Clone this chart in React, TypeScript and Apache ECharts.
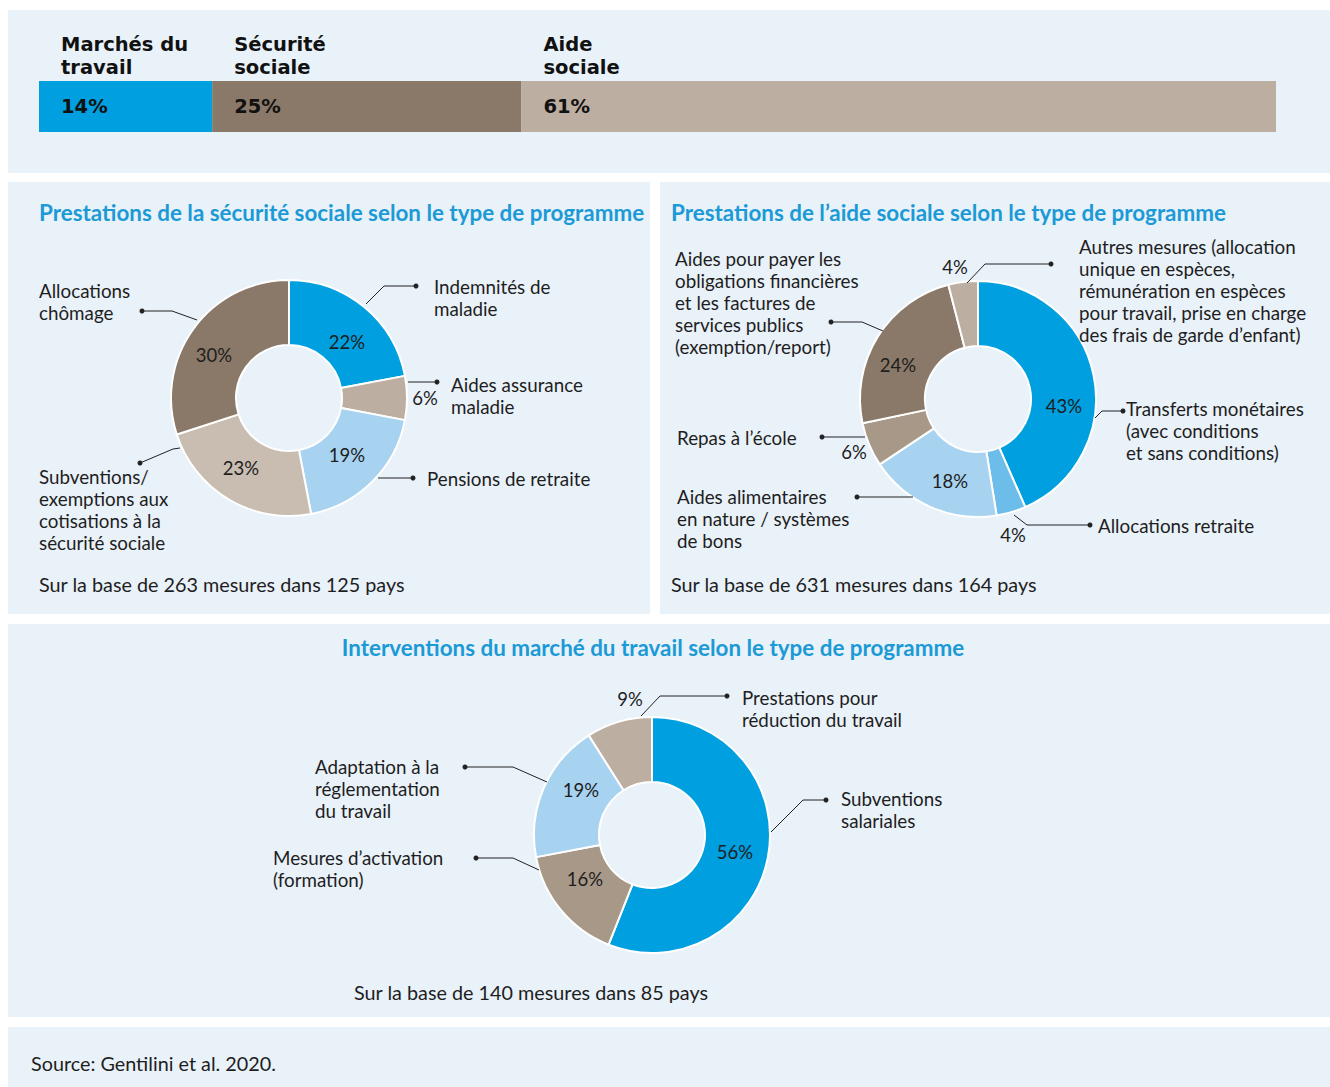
import React, { useEffect, useRef } from "react";
import * as echarts from "echarts";

// ---------- DATA ----------
const barNames = ["Marchés du\ntravail", "Sécurité\nsociale", "Aide\nsociale"];
const barValues = [14, 25, 61];

const ssNames = [
  "Indemnités de\nmaladie",
  "Aides assurance\nmaladie",
  "Pensions de retraite",
  "Subventions/\nexemptions aux\ncotisations à la\nsécurité sociale",
  "Allocations\nchômage",
];
const ssValues = [22, 6, 19, 23, 30];

const saNames = [
  "Transferts monétaires\n(avec conditions\net sans conditions)",
  "Allocations retraite",
  "Aides alimentaires\nen nature / systèmes\nde bons",
  "Repas à l’école",
  "Aides pour payer les\nobligations financières\net les factures de\nservices publics\n(exemption/report)",
  "Autres mesures (allocation\nunique en espèces,\nrémunération en espèces\npour travail, prise en charge\ndes frais de garde d’enfant)",
];
const saValues = [43, 4, 18, 6, 24, 4];

const lmNames = [
  "Subventions\nsalariales",
  "Mesures d’activation\n(formation)",
  "Adaptation à la\nréglementation\ndu travail",
  "Prestations pour\nréduction du travail",
];
const lmValues = [56, 16, 19, 9];

const titles = [
  "Prestations de la sécurité sociale selon le type de programme",
  "Prestations de l’aide sociale selon le type de programme",
  "Interventions du marché du travail selon le type de programme",
];
const captions = [
  "Sur la base de 263 mesures dans 125 pays",
  "Sur la base de 631 mesures dans 164 pays",
  "Sur la base de 140 mesures dans 85 pays",
];
const sourceText = "Source: Gentilini et al. 2020.";

// ---------- STYLE ----------
const BLUE = "#009fdf";
const LIGHTBLUE = "#a7d3f1";
const MIDBLUE = "#6cbde9";
const DARKBROWN = "#8a7968";
const TAN = "#bcaea0";
const GREYBROWN = "#a89888";
const BEIGE = "#c9bdb1";
const PANEL = "#e9f1f9";
const TXT = "#1e1e1e";
const FONT = "Lato, 'Open Sans', sans-serif";
const HEAD = "'DejaVu Sans', Inter, sans-serif";
const NAME_SIZE = 18.8;
const NAME_LH = 22;
const REF_LH = 21;

const barColors = [BLUE, DARKBROWN, TAN];
const ssColors = [BLUE, TAN, LIGHTBLUE, BEIGE, DARKBROWN];
const saColors = [BLUE, MIDBLUE, LIGHTBLUE, GREYBROWN, DARKBROWN, TAN];
const lmColors = [BLUE, GREYBROWN, LIGHTBLUE, TAN];

// label placement (layout only): x = text left, c = centre of first text line in reference
type NameLayout = { x: number; c: number; line: number[][] };

const ssLayout: NameLayout[] = [
  { x: 434, c: 287, line: [[366, 304], [384, 286], [416, 286]] },
  { x: 451, c: 385, line: [[408, 382], [437, 382]] },
  { x: 427, c: 478, line: [[378, 478], [413, 478]] },
  { x: 39, c: 478, line: [[180, 448], [173, 449], [140, 463]] },
  { x: 39, c: 291, line: [[197, 320], [172, 311], [142, 311]] },
];
const saLayout: NameLayout[] = [
  { x: 1126, c: 409, line: [[1095, 418], [1102, 411], [1123, 411]] },
  { x: 1098, c: 525, line: [[1014, 515], [1027, 525], [1090, 525]] },
  { x: 677, c: 497, line: [[913, 497], [857, 497]] },
  { x: 677, c: 437, line: [[865, 437], [822, 437]] },
  { x: 675, c: 260, line: [[883, 331], [862, 322], [831, 322]] },
  { x: 1079, c: 248, line: [[967, 283], [985, 264], [1051, 264]] },
];
const lmLayout: NameLayout[] = [
  { x: 841, c: 799, line: [[771, 832], [803, 800], [826, 800]] },
  { x: 273, c: 858, line: [[539, 870], [513, 858], [476, 858]] },
  { x: 315, c: 767, line: [[547, 782], [513, 767], [465, 767]] },
  { x: 742, c: 698, line: [[641, 716], [660, 696], [727, 696]] },
];

const ssPct: number[][] = [[347, 342], [425, 398], [347, 455], [241, 468], [214, 355]];
const saPct: number[][] = [[1064, 406], [1013, 535], [950, 481], [854, 452], [898, 365], [955, 267]];
const lmPct: number[][] = [[735, 852], [585, 879], [581, 790], [630, 699]];

function piePair(
  center: number[],
  names: string[],
  values: number[],
  colors: string[],
  layout: NameLayout[],
  pct: number[][]
) {
  const data = names.map((n, i) => ({ name: n, value: values[i], itemStyle: { color: colors[i] } }));
  return [
    {
      type: "pie",
      center,
      radius: [53, 118],
      startAngle: 90,
      clockwise: true,
      avoidLabelOverlap: false,
      silent: true,
      itemStyle: { borderColor: "#ffffff", borderWidth: 2 },
      label: {
        show: true,
        position: "inside",
        formatter: "{c}%",
        fontSize: 18.5,
        fontFamily: FONT,
        color: TXT,
      },
      labelLine: { show: false },
      labelLayout: (p: any) => {
        const o = pct[p.dataIndex];
        return o ? { x: o[0], y: o[1], align: "center", verticalAlign: "middle" } : {};
      },
      data,
      z: 3,
    },
    {
      type: "pie",
      center,
      radius: [53, 118],
      startAngle: 90,
      clockwise: true,
      avoidLabelOverlap: false,
      silent: true,
      itemStyle: { color: "rgba(0,0,0,0)", borderWidth: 0 },
      label: {
        show: true,
        position: "outside",
        formatter: "{b}",
        fontSize: NAME_SIZE,
        lineHeight: NAME_LH,
        fontFamily: FONT,
        color: TXT,
        align: "left",
        overflow: "none",
        bleedMargin: 0,
      },
      labelLine: { show: true, length: 10, length2: 10, lineStyle: { color: "#222", width: 1 } },
      labelLayout: (p: any) => {
        const L = layout[p.dataIndex];
        const n = names[p.dataIndex].split("\n").length;
        const top = L.c + (REF_LH / 2) * (n - 1) - (NAME_LH / 2) * n;
        return {
          x: L.x,
          y: top,
          align: "left",
          verticalAlign: "top",
          labelLinePoints: L.line,
        };
      },
      data: names.map((n, i) => ({ name: n, value: values[i] })),
      z: 4,
    },
  ];
}

export default function App() {
  const ref = useRef<HTMLDivElement>(null);
  useEffect(() => {
    if (!ref.current) return;
    const chart = echarts.init(ref.current, undefined, { renderer: "svg" });

    const panels = [
      [8, 10, 1322, 163],
      [8, 182, 642, 432],
      [660, 182, 670, 432],
      [8, 624, 1322, 393],
      [8, 1027, 1322, 60],
    ];
    const dots = [...ssLayout, ...saLayout, ...lmLayout].map((L) => {
      const p = L.line[L.line.length - 1];
      return { type: "circle", shape: { cx: p[0], cy: p[1], r: 2.5 }, style: { fill: "#222" }, z: 10, silent: true };
    });
    const textEl = (t: string, x: number, y: number, opts: any = {}) => ({
      type: "text",
      x,
      y,
      z: 10,
      silent: true,
      style: {
        text: t,
        fontFamily: FONT,
        fontSize: 19.8,
        fill: TXT,
        verticalAlign: "middle",
        ...opts,
      },
    });
    const titleStyle = { fontFamily: FONT, fontWeight: "bold", fontSize: 22.4, fill: "#1b9ad6" };

    const option: any = {
      animation: false,
      backgroundColor: "#ffffff",
      graphic: [
        ...panels.map((r) => ({
          type: "rect",
          shape: { x: r[0], y: r[1], width: r[2], height: r[3] },
          style: { fill: PANEL },
          z: -10,
          silent: true,
        })),
        textEl(titles[0], 39, 212, titleStyle),
        textEl(titles[1], 671, 212, titleStyle),
        textEl(titles[2], 653, 647, { ...titleStyle, align: "center" }),
        textEl(captions[0], 39, 584),
        textEl(captions[1], 671, 584),
        textEl(captions[2], 354, 992),
        textEl(sourceText, 31, 1063),
        ...dots,
      ],
      grid: { left: 39, top: 81, width: 1237, height: 51, containLabel: false },
      xAxis: { type: "value", min: 0, max: 100, show: false },
      yAxis: { type: "category", data: ["total"], show: false },
      series: [
        ...barNames.map((n, i) => ({
          type: "bar",
          name: n,
          stack: "all",
          barWidth: 51,
          silent: true,
          itemStyle: { color: barColors[i] },
          label: {
            show: true,
            position: [22, -47.2],
            formatter: (p: any) => {
              const lines = n.split("\n");
              return lines.map((l) => `{n|${l}}`).join("\n") + `\n{v|${p.value}%}`;
            },
            rich: {
              n: { fontFamily: HEAD, fontWeight: "bold", fontSize: 19.5, lineHeight: 22.2, color: "#111" },
              v: { fontFamily: HEAD, fontWeight: "bold", fontSize: 19.5, lineHeight: 57.6, color: "#111" },
            },
          },
          data: [barValues[i]],
        })),
        ...piePair([289, 398], ssNames, ssValues, ssColors, ssLayout, ssPct),
        ...piePair([978, 399], saNames, saValues, saColors, saLayout, saPct),
        ...piePair([652, 835], lmNames, lmValues, lmColors, lmLayout, lmPct),
      ],
    };
    chart.setOption(option);
    return () => chart.dispose();
  }, []);
  return (
    <div
      ref={ref}
      style={{ position: "absolute", left: 0, top: 0, width: 1330, height: 1087 }}
    />
  );
}
